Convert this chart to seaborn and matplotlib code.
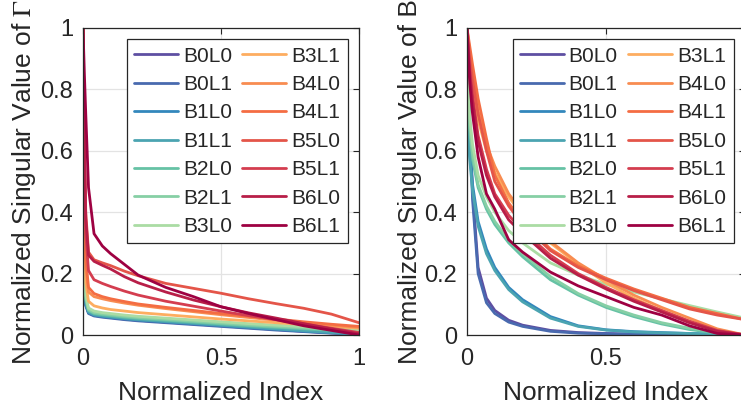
import numpy as np
import pandas as pd
import matplotlib
matplotlib.use('Agg')
import matplotlib.pyplot as plt
import seaborn as sns

#Series names and shared normalized index grid
names = ['B0L0', 'B0L1', 'B1L0', 'B1L1', 'B2L0', 'B2L1', 'B3L0',
         'B3L1', 'B4L0', 'B4L1', 'B5L0', 'B5L1', 'B6L0', 'B6L1']
x_idx = [0, 0.005, 0.01, 0.02, 0.04, 0.07, 0.1, 0.15, 0.2, 0.3, 0.4, 0.5,
         0.6, 0.7, 0.8, 0.9, 1.0]

#Normalized singular values of Gamma (left panel)
gamma_B0L0 = [1, 0.2, 0.1, 0.072, 0.064, 0.06, 0.057, 0.052, 0.048, 0.042, 0.036, 0.03, 0.024, 0.018, 0.012, 0.007, 0.002]
gamma_B0L1 = [1, 0.19, 0.095, 0.07, 0.062, 0.058, 0.055, 0.05, 0.046, 0.04, 0.034, 0.028, 0.022, 0.016, 0.011, 0.006, 0.002]
gamma_B1L0 = [1, 0.21, 0.1, 0.073, 0.065, 0.061, 0.058, 0.053, 0.049, 0.043, 0.037, 0.031, 0.025, 0.019, 0.013, 0.008, 0.003]
gamma_B1L1 = [1, 0.22, 0.105, 0.075, 0.066, 0.062, 0.059, 0.054, 0.05, 0.044, 0.038, 0.032, 0.026, 0.02, 0.014, 0.008, 0.003]
gamma_B2L0 = [1, 0.25, 0.115, 0.08, 0.07, 0.066, 0.063, 0.058, 0.054, 0.048, 0.042, 0.036, 0.03, 0.025, 0.02, 0.015, 0.01]
gamma_B2L1 = [1, 0.27, 0.12, 0.083, 0.073, 0.069, 0.066, 0.061, 0.057, 0.051, 0.045, 0.039, 0.033, 0.028, 0.023, 0.018, 0.013]
gamma_B3L0 = [1, 0.3, 0.13, 0.088, 0.078, 0.073, 0.07, 0.065, 0.061, 0.055, 0.049, 0.043, 0.037, 0.032, 0.027, 0.022, 0.017]
gamma_B3L1 = [1, 0.4, 0.17, 0.11, 0.095, 0.088, 0.083, 0.078, 0.073, 0.066, 0.059, 0.052, 0.046, 0.04, 0.034, 0.028, 0.022]
gamma_B4L0 = [1, 0.5, 0.22, 0.14, 0.125, 0.118, 0.112, 0.104, 0.097, 0.086, 0.076, 0.066, 0.057, 0.048, 0.04, 0.032, 0.025]
gamma_B4L1 = [1, 0.55, 0.25, 0.155, 0.135, 0.125, 0.118, 0.109, 0.101, 0.09, 0.08, 0.07, 0.061, 0.052, 0.043, 0.035, 0.028]
gamma_B5L0 = [1, 0.65, 0.4, 0.27, 0.245, 0.235, 0.226, 0.208, 0.193, 0.168, 0.152, 0.136, 0.118, 0.102, 0.087, 0.068, 0.04]
gamma_B5L1 = [1, 0.6, 0.33, 0.21, 0.18, 0.168, 0.158, 0.143, 0.13, 0.11, 0.094, 0.078, 0.063, 0.05, 0.036, 0.022, 0.008]
gamma_B6L0 = [1, 0.62, 0.38, 0.26, 0.24, 0.227, 0.215, 0.19, 0.17, 0.14, 0.114, 0.092, 0.072, 0.055, 0.037, 0.02, 0.004]
gamma_B6L1 = [1, 0.85, 0.72, 0.48, 0.33, 0.29, 0.265, 0.23, 0.195, 0.155, 0.125, 0.092, 0.07, 0.05, 0.03, 0.015, 0.0]

#Normalized singular values of B (right panel)
b_B0L0 = [1, 0.86, 0.7, 0.47, 0.22, 0.12, 0.08, 0.048, 0.032, 0.015, 0.008, 0.005, 0.003, 0.002, 0.001, 0.001, 0.0]
b_B0L1 = [1, 0.84, 0.67, 0.44, 0.2, 0.105, 0.07, 0.042, 0.028, 0.012, 0.006, 0.004, 0.002, 0.002, 0.001, 0.0, 0.0]
b_B1L0 = [1, 0.66, 0.59, 0.49, 0.37, 0.28, 0.22, 0.155, 0.115, 0.06, 0.03, 0.017, 0.011, 0.008, 0.005, 0.003, 0.001]
b_B1L1 = [1, 0.64, 0.57, 0.47, 0.355, 0.265, 0.21, 0.148, 0.108, 0.055, 0.028, 0.016, 0.01, 0.007, 0.005, 0.003, 0.001]
b_B2L0 = [1, 0.74, 0.66, 0.57, 0.48, 0.41, 0.36, 0.3, 0.255, 0.18, 0.13, 0.09, 0.06, 0.036, 0.018, 0.006, 0.0]
b_B2L1 = [1, 0.76, 0.68, 0.59, 0.49, 0.42, 0.37, 0.31, 0.265, 0.19, 0.135, 0.095, 0.065, 0.04, 0.022, 0.01, 0.002]
b_B3L0 = [1, 0.78, 0.71, 0.62, 0.52, 0.45, 0.4, 0.34, 0.3, 0.235, 0.195, 0.165, 0.14, 0.118, 0.096, 0.075, 0.055]
b_B3L1 = [1, 0.95, 0.9, 0.82, 0.7, 0.6, 0.53, 0.45, 0.39, 0.3, 0.23, 0.17, 0.12, 0.08, 0.045, 0.015, 0.0]
b_B4L0 = [1, 0.96, 0.92, 0.85, 0.73, 0.62, 0.55, 0.46, 0.4, 0.305, 0.235, 0.18, 0.13, 0.09, 0.055, 0.02, 0.0]
b_B4L1 = [1, 0.97, 0.94, 0.88, 0.77, 0.64, 0.52, 0.43, 0.37, 0.28, 0.225, 0.185, 0.15, 0.12, 0.09, 0.07, 0.05]
b_B5L0 = [1, 0.95, 0.9, 0.83, 0.72, 0.6, 0.5, 0.42, 0.36, 0.275, 0.22, 0.18, 0.145, 0.115, 0.085, 0.065, 0.05]
b_B5L1 = [1, 0.93, 0.87, 0.78, 0.65, 0.54, 0.46, 0.39, 0.34, 0.26, 0.2, 0.155, 0.115, 0.08, 0.045, 0.015, 0.0]
b_B6L0 = [1, 0.92, 0.85, 0.76, 0.63, 0.52, 0.45, 0.375, 0.33, 0.25, 0.195, 0.15, 0.11, 0.075, 0.04, 0.012, 0.0]
b_B6L1 = [1, 0.9, 0.82, 0.72, 0.58, 0.46, 0.41, 0.31, 0.27, 0.205, 0.16, 0.125, 0.09, 0.065, 0.03, 0.005, 0.0]

gamma_vals = [gamma_B0L0, gamma_B0L1, gamma_B1L0, gamma_B1L1, gamma_B2L0, gamma_B2L1, gamma_B3L0,
              gamma_B3L1, gamma_B4L0, gamma_B4L1, gamma_B5L0, gamma_B5L1, gamma_B6L0, gamma_B6L1]
b_vals = [b_B0L0, b_B0L1, b_B1L0, b_B1L1, b_B2L0, b_B2L1, b_B3L0,
          b_B3L1, b_B4L0, b_B4L1, b_B5L0, b_B5L1, b_B6L0, b_B6L1]

#Style
sns.set_theme(style='white')
plt.rcParams['font.family'] = ['Liberation Sans', 'DejaVu Sans']
plt.rcParams['mathtext.fontset'] = 'stix'
txt = '#262626'

#Colors: cool end and warm end of Spectral_r
cmap = sns.color_palette('Spectral_r', as_cmap=True)
colors = list(cmap(np.linspace(0.0, 0.3, 7))) + list(cmap(np.linspace(0.7, 1.0, 7)))

f = plt.figure(figsize=(7.41, 4.11), dpi=100)
ax_l = f.add_axes([83/741, 76/411, 276/741, 307/411])
ax_r = f.add_axes([467/741, 76/411, 278/741, 307/411])

#Right panel is cropped at the figure edge, so its "1" label is not shown
panels = [(ax_l, gamma_vals, r'Normalized Singular Value of $\Gamma$', ['0', '0.5', '1']),
          (ax_r, b_vals, 'Normalized Singular Value of B', ['0', '0.5', ''])]

for ax, vals, ylab, xlabs in panels:
    #One line per configuration
    for name, v, c in zip(names, vals, colors):
        sns.lineplot(x=x_idx, y=v, color=c, lw=2, label=name, ax=ax)

    ax.set_xlim(0, 1)
    ax.set_ylim(0, 1)
    ax.set_xticks([0, 0.5, 1])
    ax.set_xticklabels(xlabs)
    ax.set_yticks([0, 0.2, 0.4, 0.6, 0.8, 1])
    ax.set_yticklabels(['0', '0.2', '0.4', '0.6', '0.8', '1'])
    ax.grid(True, color='#e3e3e3', lw=0.9)
    ax.tick_params(direction='in', top=True, right=True, length=4,
                   width=0.8, colors=txt, labelsize=17)
    ax.tick_params(axis='x', pad=9)
    ax.tick_params(axis='y', pad=7)
    for s in ax.spines.values():
        s.set_color(txt)
        s.set_linewidth(0.9)
    ax.set_xlabel('Normalized Index', fontsize=19, color=txt, labelpad=8)
    ax.set_ylabel(ylab, fontsize=19, color=txt, labelpad=2)

    leg = ax.legend(ncol=2, loc='upper right', fontsize=15, frameon=True,
                    fancybox=False, edgecolor=txt, framealpha=1,
                    handlelength=2.1, handletextpad=0.25, columnspacing=0.5,
                    labelspacing=0.45, borderaxespad=0.55, borderpad=0.35)
    leg.get_frame().set_linewidth(0.9)

f.savefig('out.png', dpi=100)
